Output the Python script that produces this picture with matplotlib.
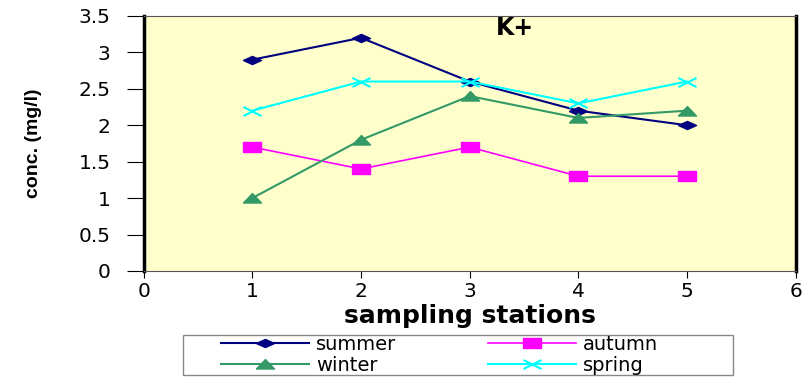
import matplotlib.pyplot as plt
from matplotlib.path import Path
from matplotlib.patches import Rectangle

stations = [1, 2, 3, 4, 5]
summer = [2.9, 3.2, 2.6, 2.2, 2.0]
autumn = [1.7, 1.4, 1.7, 1.3, 1.3]
winter = [1.0, 1.8, 2.4, 2.1, 2.2]
spring = [2.2, 2.6, 2.6, 2.3, 2.6]
yticks = [0, 0.5, 1, 1.5, 2, 2.5, 3, 3.5]
ytick_labels = ["0", "0.5", "1", "1.5", "2", "2.5", "3", "3.5"]

plt.rcParams['font.family'] = ['DejaVu Sans']

# stretched markers (the original picture is squashed vertically)
diamond = Path([(-1, 0), (0, 0.45), (1, 0), (0, -0.45), (-1, 0)])
square = Path([(-1, -0.5), (1, -0.5), (1, 0.5), (-1, 0.5), (-1, -0.5)])
triangle = Path([(-1, -0.5), (1, -0.5), (0, 0.55), (-1, -0.5)])
cross = Path([(-1, -0.5), (1, 0.5), (-1, 0.5), (1, -0.5)],
             [Path.MOVETO, Path.LINETO, Path.MOVETO, Path.LINETO])

fig = plt.figure(figsize=(8.07, 3.8), dpi=100)
ax = fig.add_axes([0.178, 0.287, 0.808, 0.671])
ax.set_facecolor("#FFFFCC")

l_su, = ax.plot(stations, summer, color="#000080", marker=diamond, markersize=13, lw=1.5, label="summer")
l_au, = ax.plot(stations, autumn, color="#FF00FF", marker=square, markersize=13, lw=1.2, label="autumn")
l_wi, = ax.plot(stations, winter, color="#339966", marker=triangle, markersize=13, lw=1.5, label="winter")
l_sp, = ax.plot(stations, spring, color="#00FFFF", marker=cross, markersize=13, lw=1.5,
                markerfacecolor="none", markeredgewidth=1.5, label="spring")

ax.set_xlim(0, 6)
ax.set_ylim(0, 3.5)
ax.set_xticks(range(0, 7))
ax.set_yticks(yticks)
ax.set_yticklabels(ytick_labels)
ax.tick_params(axis="both", labelsize=14.5, colors="black", direction="out")
ax.tick_params(axis="y", length=12, width=0.8, pad=12)
ax.tick_params(axis="x", length=5, width=0.8, pad=3)

ax.spines["left"].set_linewidth(2.5)
ax.spines["right"].set_linewidth(2.5)
ax.spines["top"].set_color("#555555")
ax.spines["bottom"].set_color("#555555")

ax.set_ylabel("conc. (mg/l)", fontsize=14, fontweight="bold", labelpad=26,
              family="Liberation Sans")
ax.set_xlabel("sampling stations", fontsize=18, fontweight="bold", labelpad=2)
ax.text(0.569, 1.0, "K+", transform=ax.transAxes, ha="center", va="top",
        fontsize=17, fontweight="bold")

# legend frame drawn separately so the box can be wider than its content
fig.patches.append(Rectangle((0.2268, 0.0132), 0.6815, 0.105, transform=fig.transFigure,
                             fill=False, edgecolor="#888888", lw=1))
# row-wise order: summer, autumn / winter, spring
fig.legend([l_su, l_wi, l_au, l_sp], ["summer", "winter", "autumn", "spring"],
           loc="center left", bbox_to_anchor=(0.274, 0.066), ncol=2, fontsize=14,
           frameon=False, handlelength=4.5, handletextpad=0.4, borderpad=0,
           labelspacing=0.1, columnspacing=4.7, borderaxespad=0)

fig.savefig("out.png", dpi=100)
